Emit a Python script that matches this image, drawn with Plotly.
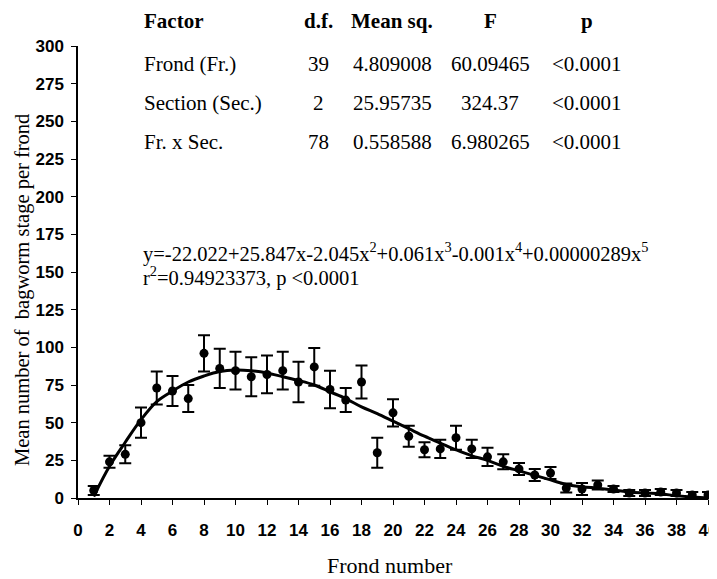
import plotly.graph_objects as go

# ---- data ----
frond = list(range(1, 41))
mean_stage = [5, 24, 29, 50, 73, 71, 66, 96, 86, 84.5, 80.5, 82, 84.5, 77, 87, 72,
              65, 77, 30, 56.5, 41, 32, 32.6, 40, 32.6, 27.3, 24, 19.3, 15.3, 16.6,
              6.6, 6, 8.6, 6, 3.3, 3.3, 4, 3.3, 2, 2]
stage_err = [3, 4, 6, 10, 11, 10, 9, 12, 13, 12.5, 13, 12.5, 12.5, 13.5, 12.5, 12.5,
             8, 11, 10, 9, 7, 5, 6, 8, 6, 6, 5, 4, 4, 4,
             3, 4, 3, 2, 2, 2, 2, 2, 2, 2]
fit_curve = [1, 21, 37, 52, 64, 71, 77, 81, 84, 85, 84.5, 83, 80.5, 78, 75, 70.5,
             66, 60.5, 56, 51, 46, 41, 36.5, 32, 28, 25, 21, 18, 15, 12,
             9, 7.5, 6.5, 5.3, 4, 3.3, 2.7, 1.5, 0.7, 0]

x_ticks = list(range(0, 41, 2))
y_ticks = list(range(0, 301, 25))

table_header = ["Factor", "d.f.", "Mean sq.", "F", "p"]
table_factor = ["Frond (Fr.)", "Section (Sec.)", "Fr. x Sec."]
table_df = ["39", "2", "78"]
table_ms = ["4.809008", "25.95735", "0.558588"]
table_f = ["60.09465", "324.37", "6.980265"]
table_p = ["&lt;0.0001", "&lt;0.0001", "&lt;0.0001"]

equation = "y=-22.022+25.847x-2.045x<sup>2</sup>+0.061x<sup>3</sup>-0.001x<sup>4</sup>+0.00000289x<sup>5</sup>"
r2_text = "r<sup>2</sup>=0.94923373, p &lt;0.0001"

# ---- layout helpers (screen coordinates; page body has an 8px default margin) ----
OFF = 8
W, H = 717 - OFF, 579 - OFF
L, R, T, B = 78, 708, 46, 498   # plot area in screen pixels


def px(x):
    return (x - L) / (R - L)


def py(y):
    return (B - y) / (B - T)


serif = "Liberation Serif, Times New Roman, serif"
sans = "Liberation Sans, Arial, sans-serif"

fig = go.Figure()
fig.add_trace(go.Scatter(
    x=frond, y=fit_curve, mode="lines", line=dict(color="black", width=3, shape="spline"),
    hoverinfo="skip", showlegend=False, cliponaxis=False))
fig.add_trace(go.Scatter(
    x=frond, y=mean_stage, mode="markers",
    marker=dict(color="black", size=9, symbol="circle"),
    error_y=dict(type="data", array=stage_err, visible=True, color="black", thickness=2, width=6),
    showlegend=False, cliponaxis=False))

annotations = []
col_x = [142, 318, 392, 490, 587]
row_y = [21, 64, 103, 142]
for i, h in enumerate(table_header):
    annotations.append(dict(
        text="<b>%s</b>" % h, x=px(col_x[i]), y=py(row_y[0]), xref="paper", yref="paper",
        xanchor="left" if i == 0 else "center", yanchor="middle", showarrow=False,
        font=dict(family=serif, size=21, color="black")))
for r in range(3):
    vals = [table_factor[r], table_df[r], table_ms[r], table_f[r], table_p[r]]
    for i, v in enumerate(vals):
        annotations.append(dict(
            text=v, x=px(col_x[i]), y=py(row_y[r + 1]), xref="paper", yref="paper",
            xanchor="left" if i == 0 else "center", yanchor="middle", showarrow=False,
            font=dict(family=serif, size=21, color="black")))

annotations.append(dict(text=equation, x=px(141), y=py(252), xref="paper", yref="paper",
                        xanchor="left", yanchor="middle", showarrow=False,
                        font=dict(family=serif, size=20.5, color="black")))
annotations.append(dict(text=r2_text, x=px(141), y=py(276), xref="paper", yref="paper",
                        xanchor="left", yanchor="middle", showarrow=False,
                        font=dict(family=serif, size=20.5, color="black")))
annotations.append(dict(text="Frond number", x=px(390), y=py(565), xref="paper", yref="paper",
                        xanchor="center", yanchor="middle", showarrow=False,
                        font=dict(family=serif, size=22, color="black")))
annotations.append(dict(text="Mean number of  bagworm stage per frond", x=px(22), y=py(290),
                        xref="paper", yref="paper", textangle=-90,
                        xanchor="center", yanchor="middle", showarrow=False,
                        font=dict(family=serif, size=20.5, color="black")))

fig.update_layout(
    width=W, height=H,
    margin=dict(l=L - OFF, r=W - (R - OFF), t=T - OFF, b=H - (B - OFF), pad=0),
    paper_bgcolor="white", plot_bgcolor="white",
    annotations=annotations,
    xaxis=dict(
        range=[0, 40], tickmode="array", tickvals=x_ticks, ticktext=[str(t) for t in x_ticks],
        showgrid=False, zeroline=False, showline=True, linecolor="black", linewidth=1.5,
        ticks="outside", ticklen=5, tickcolor="black", tickwidth=1, automargin=False,
        ticklabelstandoff=11, ticklabeloverflow="allow",
        tickfont=dict(family=sans, size=17, color="black", weight="bold"),
    ),
    yaxis=dict(
        range=[0, 300], tickmode="array", tickvals=y_ticks, ticktext=[str(t) for t in y_ticks],
        showgrid=False, zeroline=False, showline=True, linecolor="black", linewidth=1.5,
        ticks="outside", ticklen=5, tickcolor="black", tickwidth=1, automargin=False,
        ticklabelstandoff=4, ticklabeloverflow="allow",
        tickfont=dict(family=sans, size=17, color="black", weight="bold"),
    ),
)

fig.write_html("out.html")
